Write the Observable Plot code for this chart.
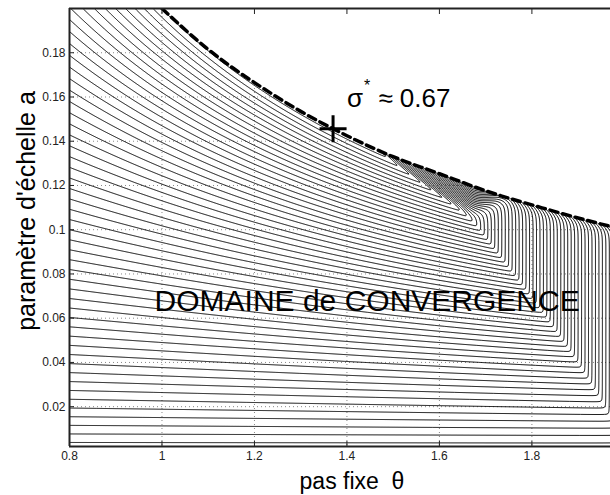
<!DOCTYPE html>
<html><head><meta charset="utf-8">
<script src="https://cdn.jsdelivr.net/npm/d3@7"></script>
<script src="https://cdn.jsdelivr.net/npm/@observablehq/plot@0.6"></script>
<style>
html,body{margin:0;padding:0;background:#fff;overflow:hidden;}
#chart{width:610px;height:495px;}
</style></head><body><div id="chart"></div>
<script>
// axis ticks
const xTicks = [0.8, 1, 1.2, 1.4, 1.6, 1.8];
const yTicks = [0.02, 0.04, 0.06, 0.08, 0.1, 0.12, 0.14, 0.16, 0.18];
const thetaDomain = [0.8, 1.97];
const aDomain = [0.002, 0.2];

// contour levels (convergence rate)
const levels = [0.9925,0.985,0.9775,0.97,0.9625,0.955,0.9475,0.94,0.9325,0.925,
  0.9175,0.91,0.9025,0.895,0.8875,0.88,0.8725,0.865,0.8575,0.85,
  0.8425,0.835,0.8275,0.82,0.8125,0.805,0.7975,0.79,0.7825,0.775,
  0.7675,0.76,0.7525,0.745,0.7375,0.73,0.7225,0.715,0.7075,0.70,
  0.6925,0.685,0.6775,0.67,0.6625,0.655,0.6475,0.64,0.6325,0.625,
  0.6175,0.61,0.6025,0.595];

// convergence boundary
const boundaryTheta = [1.0, 1.1, 1.2, 1.3, 1.4, 1.5, 1.6, 1.7, 1.8, 1.9, 1.97];
const boundaryA = [0.2, 0.1815, 0.1665, 0.1535, 0.1425, 0.133, 0.1253, 0.1176, 0.1112, 0.1053, 0.1015];

// optimum marker and annotations
const optimumTheta = [1.37];
const optimumA = [0.1456];
const sigmaLabel = ["σ"];
const sigmaStar = ["*"];
const sigmaValue = ["≈ 0.67"];
const domainLabel = ["DOMAINE de CONVERGENCE"];
const xLabel = "pas fixe  θ";
const yLabel = "paramètre d'échelle a";

// parameters of the two rate modes, fitted to the picture
const modeL = {beta: 1.99, p0: 0.05, p1: 5};
const modeR = {offset: 1.005, k: 6.5, s: 0.003, t0: 0.179, t0Max: 0.199, rampStart: 1.66, rampWidth: 0.1};

function rate(t, a) {
  const q = a * Math.pow(t, modeL.p0 + modeL.p1 * a * t);
  const L = 1 - modeL.beta * q;
  let r = (t - modeR.rampStart) / modeR.rampWidth;
  r = r < 0 ? 0 : r > 1 ? 1 : r;
  const t0 = modeR.t0 + (modeR.t0Max - modeR.t0) * r * r * (3 - 2 * r);
  const u = (a * t - t0) / modeR.s;
  const H = modeR.k * modeR.s * (u > 30 ? u : Math.log1p(Math.exp(u)));
  const R = t - modeR.offset + H;
  const e = 0.004;
  return (L + R + Math.sqrt((L - R) * (L - R) + e * e)) / 2;
}

const boundary = boundaryTheta.map((t, i) => ({t, a: boundaryA[i]}));
const optimum = optimumTheta.map((t, i) => ({t, a: optimumA[i]}));

const plusSymbol = {
  draw(ctx, size) {
    const r = Math.sqrt(size / Math.PI);
    ctx.moveTo(-r, 0); ctx.lineTo(r, 0);
    ctx.moveTo(0, -r); ctx.lineTo(0, r);
  }
};

const chart = Plot.plot({
  width: 610, height: 495,
  marginLeft: 69, marginRight: 0, marginTop: 8, marginBottom: 49,
  style: {fontFamily: "Liberation Sans, Arial, sans-serif", fontSize: "12px", background: "white", color: "#222"},
  x: {domain: thetaDomain, label: null},
  y: {domain: aDomain, label: null},
  marks: [
    Plot.gridX(xTicks.slice(1), {stroke: "#888", strokeOpacity: 1, strokeDasharray: "1,3"}),
    Plot.gridY(yTicks, {stroke: "#888", strokeOpacity: 1, strokeDasharray: "1,3"}),
    Plot.contour({x1: 0.79, x2: 2.0, y1: 0.0, y2: 0.2, value: rate, thresholds: levels,
      pixelSize: 1, fill: "none", stroke: "black", strokeWidth: 1, clip: true}),
    Plot.areaY(boundary, {x: "t", y1: "a", y2: aDomain[1], fill: "white", curve: "natural", clip: true}),
    Plot.line(boundary, {x: "t", y: "a", stroke: "black", strokeWidth: 3.5, strokeDasharray: "8,5", curve: "natural", clip: true}),
    Plot.dot(optimum, {x: "t", y: "a", symbol: plusSymbol, r: 13.5, stroke: "black", strokeWidth: 3}),
    Plot.text(sigmaLabel, {x: 1.4174, y: 0.1553, text: d => d, fontSize: 26, textAnchor: "middle", lineAnchor: "bottom", fill: "black"}),
    Plot.text(sigmaStar, {x: 1.4438, y: 0.1627, text: d => d, fontSize: 16, textAnchor: "middle", lineAnchor: "bottom", fill: "black"}),
    Plot.text(sigmaValue, {x: 1.468, y: 0.1553, text: d => d, fontSize: 26, textAnchor: "start", lineAnchor: "bottom", fill: "black"}),
    Plot.text(domainLabel, {x: 0.984, y: 0.0634, text: d => d, fontSize: 30, textAnchor: "start", lineAnchor: "bottom", fill: "black"}),
    Plot.ruleX([thetaDomain[0]], {stroke: "#222", strokeWidth: 2}),
    Plot.ruleY([aDomain[0]], {stroke: "#222", strokeWidth: 2}),
    Plot.ruleY([aDomain[1]], {stroke: "#222", strokeWidth: 2}),
    Plot.axisX(xTicks, {tickSize: 0, tickPadding: 5, tickFormat: d => String(d), fontSize: 12, label: null}),
    Plot.axisX(xTicks, {anchor: "bottom", tickSize: -5, tickFormat: () => "", stroke: "#222", label: null}),
    Plot.axisX(xTicks, {anchor: "top", tickSize: -5, tickFormat: () => "", stroke: "#222", label: null}),
    Plot.axisY(yTicks, {tickSize: 0, tickPadding: 4, tickFormat: d => String(d), fontSize: 12, label: null}),
    Plot.axisY(yTicks, {anchor: "left", tickSize: -5, tickFormat: () => "", stroke: "#222", label: null}),
    Plot.text([xLabel], {frameAnchor: "bottom", dx: 12, dy: 42, text: d => d, fontSize: 23, lineAnchor: "bottom", fill: "black"}),
    Plot.text([yLabel], {frameAnchor: "left", dx: -34.5, dy: -16.5, rotate: -90, text: d => d, fontSize: 25, textAnchor: "middle", lineAnchor: "bottom", fill: "black"})
  ]
});
document.getElementById("chart").appendChild(chart);
</script></body></html>
